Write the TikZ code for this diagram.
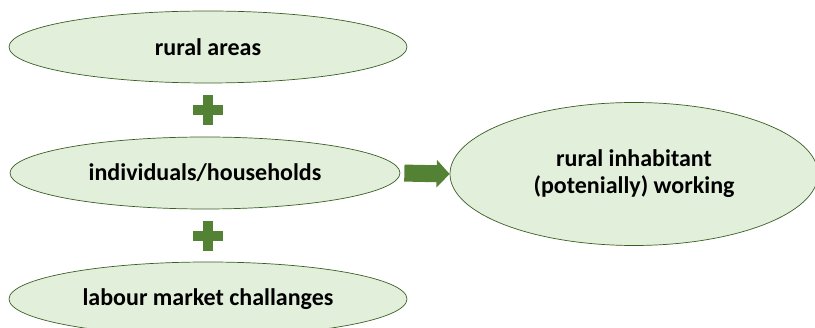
\documentclass[tikz,border=0pt]{standalone}
\usepackage{fontspec}
\setmainfont{Carlito}
\usetikzlibrary{shapes.geometric,arrows.meta}
\definecolor{ellfill}{HTML}{E2EFDA}
\definecolor{ellline}{HTML}{3A5F24}
\definecolor{accent}{HTML}{548235}
\tikzset{
  oval/.style={ellipse, draw=ellline, fill=ellfill, line width=0.7pt, inner sep=0pt,
    font=\fontsize{24}{27}\selectfont\bfseries, align=center},
  plussign/.style={fill=accent},
  bigarrow/.style={draw=accent, line width=17pt, -{Triangle[length=13pt,width=27pt]}}
}
\begin{document}
\begin{tikzpicture}[x=1pt,y=-1pt]
\useasboundingbox (0,0) rectangle (815,328);
\begin{scope}
\clip (0,0) rectangle (815,328);
\node[oval, minimum width=398pt, minimum height=72pt] (e1) at (208,47) {rural areas};
\node[oval, minimum width=390pt, minimum height=72pt] (e2) at (205,173) {individuals/households};
\node[oval, minimum width=398pt, minimum height=74pt] (e3) at (208,299) {labour market challanges};
\node[oval, minimum width=368pt, minimum height=143pt] (e4) at (634,174) {rural inhabitant\\(potenially) working};
\end{scope}
% plus signs
\foreach \cy in {110,236}{
  \fill[plussign] (203,\cy-15) rectangle (213,\cy+15);
  \fill[plussign] (193,\cy-5) rectangle (223,\cy+5);
}
\draw[bigarrow, shorten <=4pt] (e2.east) -- (e4.west);
\end{tikzpicture}
\end{document}
